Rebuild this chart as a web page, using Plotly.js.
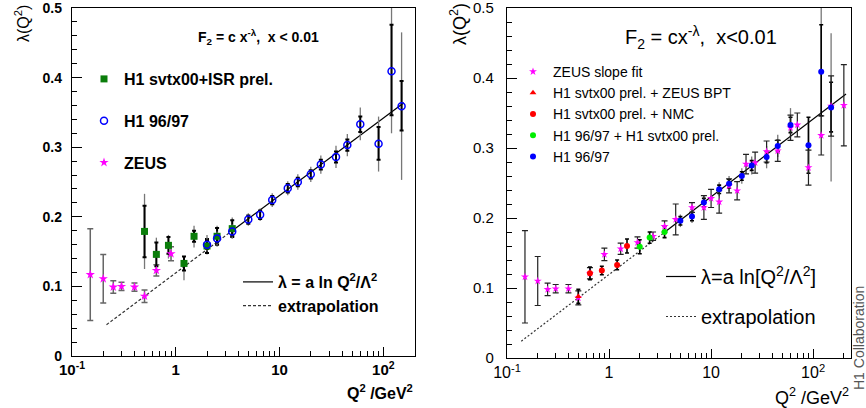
<!DOCTYPE html>
<html><head><meta charset="utf-8">
<script src="https://cdn.plot.ly/plotly-3.0.1.min.js"></script>
<style>html,body{margin:0;padding:0;background:#fff}</style>
</head><body><div id="chart" style="width:866px;height:408px"></div>
<script>
// ---------------- axis ticks ----------------
const tickVals = [0.1, 1, 10, 100];
const tickText = ['10<sup>-1</sup>', '1', '10', '10<sup>2</sup>'];
const minorTickVals = [0.2,0.3,0.4,0.5,0.6,0.7,0.8,0.9,2,3,4,5,6,7,8,9,20,30,40,50,60,70,80,90,200];
const yTickVals = [0, 0.1, 0.2, 0.3, 0.4, 0.5];
const yTickText = ['0', '0.1', '0.2', '0.3', '0.4', '0.5'];

// ---------------- left panel data ----------------
const zeusQ2 = [0.15, 0.2, 0.25, 0.3, 0.4, 0.5, 0.65, 0.9];
const zeusLam = [0.117, 0.111, 0.099, 0.100, 0.099, 0.086, 0.123, 0.147];
const zeusErr = [0.066, 0.035, 0.009, 0.006, 0.006, 0.009, 0.008, 0.010];

const isrQ2 = [0.5, 0.65, 0.85, 1.2, 1.5, 2.0, 2.5, 3.5];
const isrLam = [0.179, 0.146, 0.159, 0.133, 0.172, 0.158, 0.172, 0.183];
const isrStat = [0.037, 0.017, 0.012, 0.010, 0.008, 0.010, 0.012, 0.012];
const isrTotUp = [0.054, 0.024, 0.015, 0.010, 0.015, 0.016, 0.015, 0.016];
const isrTotDn = [0.054, 0.024, 0.019, 0.024, 0.016, 0.012, 0.015, 0.014];

const h1Q2 = [2.0, 2.5, 3.5, 5, 6.5, 8.5, 12, 15, 20, 25, 35, 45, 60, 90, 120, 150];
const h1Lam = [0.160, 0.169, 0.179, 0.196, 0.203, 0.224, 0.241, 0.250, 0.261, 0.275, 0.286, 0.303, 0.333, 0.305, 0.409, 0.359];
const h1StatUp = [0.006, 0.006, 0.006, 0.006, 0.006, 0.006, 0.006, 0.006, 0.006, 0.007, 0.008, 0.008, 0.011, 0.024, 0.067, 0.036];
const h1StatDn = [0.006, 0.006, 0.006, 0.006, 0.006, 0.006, 0.006, 0.006, 0.006, 0.007, 0.008, 0.008, 0.011, 0.023, 0.063, 0.035];
const h1TotUp = [0.010, 0.010, 0.010, 0.009, 0.009, 0.010, 0.010, 0.011, 0.011, 0.013, 0.016, 0.016, 0.024, 0.039, 0.100, 0.106];
const h1TotDn = [0.010, 0.010, 0.010, 0.009, 0.009, 0.010, 0.010, 0.011, 0.011, 0.013, 0.016, 0.016, 0.023, 0.040, 0.089, 0.106];

const fitQ2L = [3.5, 158];
const fitLamL = [0.180, 0.364];
const extQ2L = [0.215, 3.5];
const extLamL = [0.045, 0.180];

// ---------------- right panel data ----------------
const zsQ2 = [0.15, 0.2, 0.25, 0.3, 0.4, 0.5, 0.65, 0.9, 1.3, 1.9, 2.7, 3.5, 4.5, 6.5, 8.5, 10, 12, 15, 18, 22, 27, 35, 45, 60, 70, 90, 120, 150, 200];
const zsLam = [0.116, 0.110, 0.098, 0.099, 0.099, 0.086, 0.121, 0.148, 0.156, 0.165, 0.174, 0.188, 0.198, 0.215, 0.215, 0.228, 0.223, 0.246, 0.239, 0.277, 0.279, 0.295, 0.296, 0.329, 0.333, 0.272, 0.318, 0.360, 0.361];
const zsErr = [0.066, 0.035, 0.009, 0.006, 0.006, 0.010, 0.008, 0.009, 0.008, 0.008, 0.006, 0.008, 0.022, 0.007, 0.017, 0.013, 0.016, 0.010, 0.013, 0.014, 0.015, 0.015, 0.015, 0.018, 0.017, 0.025, 0.028, 0.043, 0.058];

const bptQ2 = [0.5];
const bptLam = [0.088];
const bptErr = [0.010];

const nmcQ2 = [0.65, 0.85, 1.2, 1.5];
const nmcLam = [0.121, 0.125, 0.133, 0.160];
const nmcErr = [0.009, 0.006, 0.007, 0.010];

const combQ2 = [2.0, 2.5, 3.5];
const combLam = [0.159, 0.172, 0.180];
const combErr = [0.010, 0.008, 0.008];

const h1rQ2 = [5, 6.5, 8.5, 12, 15, 20, 25, 35, 45, 60, 90, 120, 150];
const h1rLam = [0.196, 0.202, 0.222, 0.241, 0.249, 0.260, 0.275, 0.287, 0.303, 0.333, 0.304, 0.409, 0.358];
const h1rStatUp = [0.006, 0.006, 0.006, 0.006, 0.006, 0.006, 0.007, 0.008, 0.008, 0.011, 0.040, 0.067, 0.036];
const h1rStatDn = [0.006, 0.006, 0.006, 0.006, 0.006, 0.006, 0.007, 0.008, 0.008, 0.011, 0.040, 0.063, 0.035];
const h1rTotUp = [0.009, 0.009, 0.010, 0.010, 0.011, 0.011, 0.013, 0.016, 0.016, 0.024, 0.040, 0.100, 0.106];
const h1rTotDn = [0.009, 0.009, 0.010, 0.010, 0.011, 0.011, 0.013, 0.016, 0.016, 0.023, 0.040, 0.089, 0.106];

const fitQ2R = [3.6, 210];
const fitLamR = [0.181, 0.377];
const extQ2R = [0.138, 3.6];
const extLamR = [0.024, 0.181];

// ---------------- styles ----------------
const FONT = 'Liberation Sans, Arial, Helvetica, sans-serif';
const GREEN = '#0a7d0a', BLUE = '#0000ff', MAG = '#ff00ff', RED = '#ff0000', LGREEN = '#00ee00';

function errArr(up, dn, color, thick, width) {
  return {type: 'data', symmetric: dn === undefined, array: up, arrayminus: dn, color: color, thickness: thick, width: width};
}
function hiddenErr(x, y, err, xa, ya) {
  return {x: x, y: y, xaxis: xa, yaxis: ya, mode: 'markers', marker: {size: 1, opacity: 0}, error_y: err, showlegend: false, hoverinfo: 'skip'};
}

const traces = [
  // ----- left lines -----
  {x: extQ2L, y: extLamL, xaxis: 'x', yaxis: 'y', mode: 'lines', line: {color: '#333', width: 1.2, dash: '3px,2px'}, name: 'extrapolation', legend: 'legend2', legendgroup: 'le2', legendrank: 2},
  {x: fitQ2L, y: fitLamL, xaxis: 'x', yaxis: 'y', mode: 'lines', line: {color: '#000', width: 1.2}, name: 'λ = a ln Q<sup>2</sup>/Λ<sup>2</sup>', legend: 'legend2', legendgroup: 'le1', legendrank: 1},
  // ----- left error bars -----
  hiddenErr(zeusQ2, zeusLam, errArr(zeusErr, undefined, '#666', 1.5, 3), 'x', 'y'),
  hiddenErr(isrQ2, isrLam, errArr(isrTotUp, isrTotDn, '#777', 1.3, 0), 'x', 'y'),
  hiddenErr(isrQ2, isrLam, errArr(isrStat, undefined, '#000', 2, 2), 'x', 'y'),
  hiddenErr(h1Q2, h1Lam, errArr(h1TotUp, h1TotDn, '#777', 1.3, 0), 'x', 'y'),
  hiddenErr(h1Q2, h1Lam, errArr(h1StatUp, h1StatDn, '#000', 2, 2), 'x', 'y'),
  // ----- left markers -----
  {x: isrQ2, y: isrLam, xaxis: 'x', yaxis: 'y', mode: 'markers', marker: {symbol: 'square', size: 7, color: GREEN}, name: 'H1 svtx00+ISR prel.', legend: 'legend', legendgroup: 'l1', legendrank: 1},
  {x: h1Q2, y: h1Lam, xaxis: 'x', yaxis: 'y', mode: 'markers', marker: {symbol: 'circle-open', size: 7, color: BLUE, line: {width: 1.5, color: BLUE}}, name: 'H1 96/97', legend: 'legend', legendgroup: 'l2', legendrank: 2},
  {x: zeusQ2, y: zeusLam, xaxis: 'x', yaxis: 'y', mode: 'markers', marker: {symbol: 'star', size: 7, color: MAG}, name: 'ZEUS', legend: 'legend', legendgroup: 'l3', legendrank: 3},

  // ----- right lines -----
  {x: extQ2R, y: extLamR, xaxis: 'x2', yaxis: 'y2', mode: 'lines', line: {color: '#333', width: 1.2, dash: '2px,2px'}, name: 'extrapolation', legend: 'legend4', legendgroup: 're2', legendrank: 2},
  {x: fitQ2R, y: fitLamR, xaxis: 'x2', yaxis: 'y2', mode: 'lines', line: {color: '#000', width: 1.2}, name: 'λ=a ln[Q<sup>2</sup>/Λ<sup>2</sup>]', legend: 'legend4', legendgroup: 're1', legendrank: 1},
  // ----- right error bars -----
  hiddenErr(h1rQ2, h1rLam, errArr(h1rTotUp, h1rTotDn, '#777', 1.3, 0), 'x2', 'y2'),
  hiddenErr(h1rQ2, h1rLam, errArr(h1rStatUp, h1rStatDn, '#000', 1.6, 2), 'x2', 'y2'),
  hiddenErr(zsQ2, zsLam, errArr(zsErr, undefined, '#222', 1.2, 3), 'x2', 'y2'),
  hiddenErr(bptQ2, bptLam, errArr(bptErr, undefined, '#000', 1.6, 2), 'x2', 'y2'),
  hiddenErr(nmcQ2, nmcLam, errArr(nmcErr, undefined, '#000', 1.6, 2), 'x2', 'y2'),
  hiddenErr(combQ2, combLam, errArr(combErr, undefined, '#000', 1.6, 2), 'x2', 'y2'),
  // ----- right markers -----
  {x: zsQ2, y: zsLam, xaxis: 'x2', yaxis: 'y2', mode: 'markers', marker: {symbol: 'star', size: 6, color: MAG}, name: 'ZEUS slope fit', legend: 'legend3', legendgroup: 'r', legendrank: 1},
  {x: bptQ2, y: bptLam, xaxis: 'x2', yaxis: 'y2', mode: 'markers', marker: {symbol: 'triangle-up', size: 6, color: RED}, name: 'H1 svtx00 prel. + ZEUS BPT', legend: 'legend3', legendgroup: 'r', legendrank: 2},
  {x: nmcQ2, y: nmcLam, xaxis: 'x2', yaxis: 'y2', mode: 'markers', marker: {symbol: 'circle', size: 6, color: RED}, name: 'H1 svtx00 prel. + NMC', legend: 'legend3', legendgroup: 'r', legendrank: 3},
  {x: combQ2, y: combLam, xaxis: 'x2', yaxis: 'y2', mode: 'markers', marker: {symbol: 'circle', size: 6, color: LGREEN}, name: 'H1 96/97 + H1 svtx00 prel.', legend: 'legend3', legendgroup: 'r', legendrank: 4},
  {x: h1rQ2, y: h1rLam, xaxis: 'x2', yaxis: 'y2', mode: 'markers', marker: {symbol: 'circle', size: 6, color: BLUE}, name: 'H1 96/97', legend: 'legend3', legendgroup: 'r', legendrank: 5}
];

function xAxis(domain, range, anchor, bold, size) {
  return {type: 'log', domain: domain, range: range, anchor: anchor,
    tickmode: 'array', tickvals: tickVals, ticktext: tickText,
    ticks: 'inside', ticklen: 9, tickwidth: 1, tickcolor: '#000',
    minor: {tickvals: minorTickVals, ticks: 'inside', ticklen: 5, tickwidth: 1, tickcolor: '#000', showgrid: false},
    showline: true, linecolor: '#000', linewidth: 1.2, mirror: true,
    showgrid: false, zeroline: false,
    tickfont: {family: FONT, size: size, color: '#000', weight: bold ? 'bold' : 'normal'}};
}
function yAxis(domain, anchor, bold, size, standoff) {
  return {domain: domain, range: [0, 0.5], anchor: anchor,
    tickmode: 'array', tickvals: yTickVals, ticktext: yTickText,
    ticks: 'inside', ticklen: 10, tickwidth: 1, tickcolor: '#000',
    minor: {tickmode: 'linear', tick0: 0, dtick: 0.02, ticks: 'inside', ticklen: 5, tickwidth: 1, tickcolor: '#000', showgrid: false},
    showline: true, linecolor: '#000', linewidth: 1.2, mirror: true, ticklabeloverflow: 'allow',
    showgrid: false, zeroline: false, ticklabelstandoff: standoff,
    tickfont: {family: FONT, size: size, color: '#000', weight: bold ? 'bold' : 'normal'}};
}
function leg(x, ytop, size, bold, gap) {
  return {x: x / 866, y: 1 - ytop / 408, xanchor: 'left', yanchor: 'top', bgcolor: 'rgba(0,0,0,0)', borderwidth: 0,
    tracegroupgap: gap, traceorder: 'grouped', font: {family: FONT, size: size, color: '#000', weight: bold ? 'bold' : 'normal'}};
}

const layout = {
  width: 866, height: 408, margin: {l: 0, r: 0, t: 0, b: 0},
  paper_bgcolor: '#fff', plot_bgcolor: '#fff',
  xaxis: xAxis([72 / 866, 415 / 866], [-1, Math.log10(202)], 'y', true, 15),
  yaxis: yAxis([52 / 408, 400 / 408], 'x', true, 14, 6),
  xaxis2: xAxis([507 / 866, 851 / 866], [-1, Math.log10(235)], 'y2', false, 16),
  yaxis2: yAxis([50 / 408, 400 / 408], 'x2', false, 15, 9),
  legend: leg(84, 62, 16, true, 18),
  legend2: leg(238, 265, 16, true, 0),
  legend3: leg(513, 56, 14, false, 0),
  legend4: leg(661, 257, 20, false, 11),
  annotations: [
    {xref: 'paper', yref: 'paper', x: 258 / 866, y: 1 - 37 / 408, xanchor: 'center', yanchor: 'middle', showarrow: false,
     text: 'F<sub>2</sub> = c x<sup>-λ</sup>,  x &lt; 0.01', font: {family: FONT, size: 14, weight: 'bold', color: '#000'}},
    {xref: 'paper', yref: 'paper', x: 701 / 866, y: 1 - 37 / 408, xanchor: 'center', yanchor: 'middle', showarrow: false,
     text: 'F<sub>2</sub> = cx<sup>-λ</sup>,  x&lt;0.01', font: {family: FONT, size: 20, color: '#000'}},
    {xref: 'paper', yref: 'paper', x: 22 / 866, y: 1 - 24 / 408, xanchor: 'center', yanchor: 'middle', showarrow: false, textangle: -90,
     text: 'λ(Q<sup>2</sup>)', font: {family: FONT, size: 16, color: '#000'}},
    {xref: 'paper', yref: 'paper', x: 458 / 866, y: 1 - 24 / 408, xanchor: 'center', yanchor: 'middle', showarrow: false, textangle: -90,
     text: 'λ(Q<sup>2</sup>)', font: {family: FONT, size: 18, color: '#000'}},
    {xref: 'paper', yref: 'paper', x: 415 / 866, y: 1 - 392 / 408, xanchor: 'right', yanchor: 'middle', showarrow: false,
     text: 'Q<sup>2</sup> /GeV<sup>2</sup>', font: {family: FONT, size: 16, weight: 'bold', color: '#000'}},
    {xref: 'paper', yref: 'paper', x: 851 / 866, y: 1 - 396 / 408, xanchor: 'right', yanchor: 'middle', showarrow: false,
     text: 'Q<sup>2</sup> /GeV<sup>2</sup>', font: {family: FONT, size: 18, color: '#000'}},
    {xref: 'paper', yref: 'paper', x: 859 / 866, y: 1 - 338 / 408, xanchor: 'center', yanchor: 'middle', showarrow: false, textangle: -90,
     text: 'H1 Collaboration', font: {family: FONT, size: 14, color: '#555'}}
  ]
};

Plotly.newPlot('chart', traces, layout, {staticPlot: true, displayModeBar: false});
</script>
</body></html>
